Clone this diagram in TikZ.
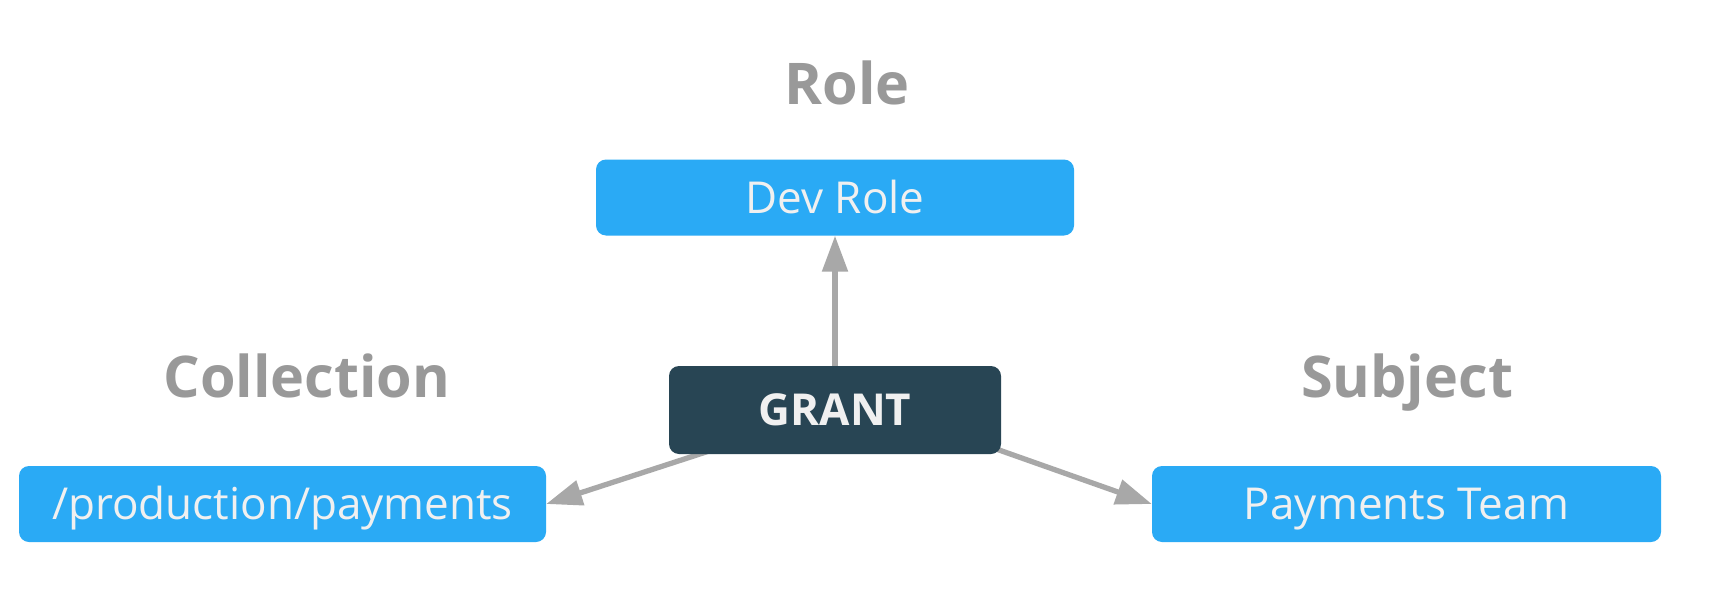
\documentclass[tikz,border=0pt]{standalone}
\usepackage{fontspec}
\setmainfont{Open Sans}
\usetikzlibrary{arrows.meta}
\pgfdeclarelayer{bglayer}
\pgfsetlayers{bglayer,main}
\definecolor{boxblue}{RGB}{42,170,245}
\definecolor{grantdark}{RGB}{40,69,84}
\definecolor{labelgray}{RGB}{153,153,153}
\definecolor{arrowgray}{RGB}{168,168,168}
\definecolor{boxtext}{RGB}{240,240,240}
\begin{document}
\begin{tikzpicture}[x=1pt,y=-1pt,
  bluebox/.style={fill=boxblue, rounded corners=10pt, text=boxtext,
    font=\fontsize{44}{50}\selectfont, minimum height=76pt,
    text height=31pt, text depth=0pt, inner sep=0pt},
  grantbox/.style={fill=grantdark, rounded corners=10pt, text=boxtext,
    font=\fontsize{44}{50}\selectfont\bfseries, minimum width=332pt, minimum height=88pt,
    text height=31pt, text depth=0pt, inner sep=0pt},
  grouplabel/.style={text=labelgray, font=\fontsize{57.5}{64}\selectfont\bfseries,
    anchor=base, inner sep=0pt},
  conn/.style={draw=arrowgray, line width=5.3pt, -{Triangle[length=36pt,width=25pt]}}]
\begin{pgfonlayer}{bglayer}
\fill[white] (0,0) rectangle (1730,594);
\end{pgfonlayer}
\useasboundingbox (0,0) rectangle (1730,594);

\node[grouplabel] (rolelbl) at (847,104) {Role};
\node[grouplabel] (colllbl) at (307,397) {Collection};
\node[grouplabel] (subjlbl) at (1407,397) {Subject};

\node[bluebox, minimum width=478pt] (dev) at (835,197.5) {Dev Role};
\node[bluebox, minimum width=527pt] (coll) at (282.5,504) {/production/payments};
\node[bluebox, minimum width=509pt] (team) at (1406.5,504) {Payments Team};
\node[grantbox] (grant) at (835,410) {GRANT};

\begin{pgfonlayer}{bglayer}
\draw[conn] (grant.center) -- (coll.east);
\draw[conn] ([yshift=18pt]grant.center) -- (team.west);
\end{pgfonlayer}
\draw[conn] (grant.north) -- (dev.south);
\end{tikzpicture}
\end{document}
